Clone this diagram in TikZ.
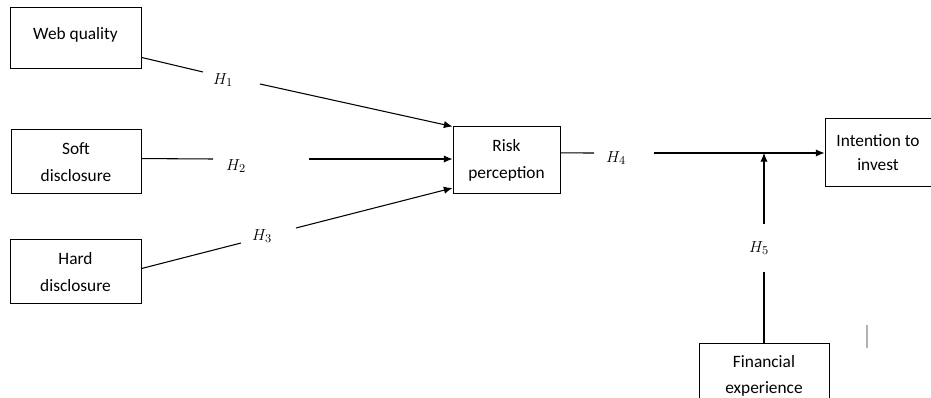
\documentclass[tikz,border=0pt]{standalone}
\usepackage{fontspec}
\setmainfont{Carlito}
\usepackage{tikz}
\usetikzlibrary{arrows.meta}
\tikzset{ var_box/.style = {rectangle, draw, line width=0.75pt, align=center, font=\fontsize{13}{20}\selectfont} }
\tikzset{ hyp/.style = {inner sep=0pt, font=\fontsize{13}{15}\selectfont} }
\tikzset{ path_arr/.style = {line width=0.8pt, -{Latex[length=6.5pt,width=5.5pt]}} }

\begin{document}
\begin{tikzpicture}[x=0.75pt,y=-0.75pt]
            \useasboundingbox (0,0) rectangle (931,398);
            % variables
            \node[var_box, minimum width=98.25pt, minimum height=45.75pt] (web) at (75.5,38.5) {\raisebox{8pt}{Web quality}};
            \node[var_box, minimum width=97.5pt, minimum height=48pt] (soft) at (76,162) {Soft\\disclosure};
            \node[var_box, minimum width=98.25pt, minimum height=48pt] (hard) at (75.5,272) {Hard\\disclosure};
            \node[var_box, minimum width=80.25pt, minimum height=50.25pt] (risk) at (506.5,160.5) {Risk\\perception};
            \node[var_box, minimum width=79.5pt, minimum height=51pt, font=\fontsize{13}{18}\selectfont] (intent) at (878,153) {Intention to\\invest};
            \node[var_box, minimum width=97.5pt, minimum height=48pt] (fin) at (764,376) {Financial\\experience};
            % hypotheses
            \node[hyp] (h1) at (223,80) {$H_1$};
            \node[hyp] (h2) at (236,166) {$H_2$};
            \node[hyp] (h3) at (262,236) {$H_3$};
            \node[hyp] (h4) at (616,158) {$H_4$};
            \node[hyp] (h5) at (759,248) {$H_5$};
            \coordinate (a1) at (203,72);  \coordinate (b1) at (260,84);
            \coordinate (a2) at (213,159); \coordinate (b2) at (309,159);
            \coordinate (a3) at (241,243); \coordinate (b3) at (296,228);
            \coordinate (a4) at (594,153); \coordinate (b4) at (654,153);
            \coordinate (a5) at (764,272); \coordinate (b5) at (764,224);
            \coordinate (mod) at (764,153);
            % paths
            \draw[line width=0.8pt] (web.-16) to (a1);
            \draw[path_arr] (b1) to (risk.north west);
            \draw[line width=0.8pt] (soft.3) to (a2);
            \draw[path_arr] (b2) to (b2 -| risk.west);
            \draw[line width=0.8pt] (hard.3) to (a3);
            \draw[path_arr] (b3) to (risk.207);
            \draw[line width=0.8pt] (risk.8) to (a4);
            \draw[path_arr] (b4) to (intent.west);
            \draw[line width=0.8pt] (fin.north) to (a5);
            \draw[path_arr] (b5) to (mod);
            \draw[gray!60, line width=0.8pt] (867,325) -- (867,348);
        \end{tikzpicture}
\end{document}
